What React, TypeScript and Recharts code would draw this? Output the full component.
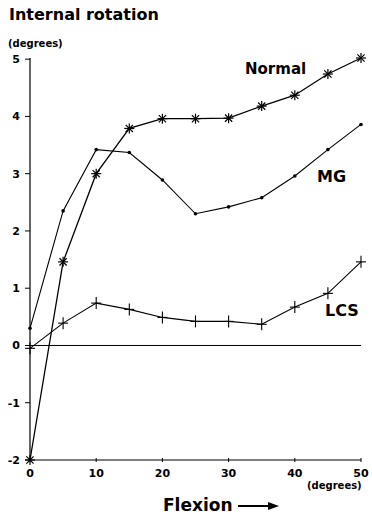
import React from "react";
import { LineChart, Line, XAxis, YAxis, ReferenceLine } from "recharts";

const flexion = [0, 5, 10, 15, 20, 25, 30, 35, 40, 45, 50];
const normal = [-2.0, 1.46, 3.0, 3.79, 3.96, 3.96, 3.97, 4.18, 4.37, 4.74, 5.02];
const mg = [0.3, 2.35, 3.42, 3.37, 2.89, 2.3, 2.42, 2.58, 2.96, 3.42, 3.86];
const lcs = [-0.05, 0.39, 0.74, 0.63, 0.49, 0.42, 0.42, 0.37, 0.67, 0.91, 1.46];
const xTicks = [0, 10, 20, 30, 40, 50];
const yTicks = [-2, -1, 0, 1, 2, 3, 4, 5];

const data = flexion.map((f, i) => ({ f, normal: normal[i], mg: mg[i], lcs: lcs[i] }));

const FONT = "'DejaVu Sans', 'Liberation Sans', Arial, sans-serif";

const Star = (props: any) => {
  const { cx, cy, index } = props;
  if (cx == null || cy == null) return <g key={index} />;
  const r = 5;
  const d = r * 0.72;
  return (
    <g key={index} stroke="#000" strokeWidth={1.2}>
      <line x1={cx - r} y1={cy} x2={cx + r} y2={cy} />
      <line x1={cx} y1={cy - r} x2={cx} y2={cy + r} />
      <line x1={cx - d} y1={cy - d} x2={cx + d} y2={cy + d} />
      <line x1={cx - d} y1={cy + d} x2={cx + d} y2={cy - d} />
    </g>
  );
};

const Plus = (props: any) => {
  const { cx, cy, index } = props;
  if (cx == null || cy == null) return <g key={index} />;
  return (
    <g key={index} stroke="#000" strokeWidth={1.1}>
      <line x1={cx - 5} y1={cy} x2={cx + 5} y2={cy} />
      <line x1={cx} y1={cy - 6} x2={cx} y2={cy + 6} />
    </g>
  );
};

const Dot = (props: any) => {
  const { cx, cy, index } = props;
  if (cx == null || cy == null) return <g key={index} />;
  return <circle key={index} cx={cx} cy={cy} r={1.8} fill="#000" />;
};

const XTick = (props: any) => {
  const { x, y, payload } = props;
  return (
    <g>
      <line x1={x} x2={x} y1={y - 4} y2={y} stroke="#000" strokeWidth={1} />
      <text x={x} y={y + 15} textAnchor="middle" fontFamily={FONT} fontWeight="bold" fontSize={11} fill="#000">
        {payload.value}
      </text>
    </g>
  );
};

const YTick = (props: any) => {
  const { x, y, payload } = props;
  return (
    <text x={x} y={y + 4} textAnchor="end" fontFamily={FONT} fontWeight="bold" fontSize={11} fill="#000">
      {payload.value}
    </text>
  );
};

const txt = (style: React.CSSProperties, s: string) => (
  <div style={{ position: "absolute", fontFamily: FONT, fontWeight: "bold", color: "#000", whiteSpace: "nowrap", lineHeight: 1, ...style }}>{s}</div>
);

export default function App() {
  return (
    <div style={{ position: "absolute", left: 0, top: 0, width: 372, height: 522, background: "#fff" }}>
      <LineChart width={372} height={522} data={data} margin={{ top: 58, right: 11, bottom: 0, left: 0 }}>
        <XAxis
          dataKey="f"
          type="number"
          domain={[0, 50]}
          ticks={xTicks}
          tickSize={0}
          tickLine={false}
          tick={<XTick />}
          axisLine={{ stroke: "#000", strokeWidth: 1.2 }}
          height={62}
        />
        <YAxis
          type="number"
          domain={[-2, 5]}
          ticks={yTicks}
          width={30}
          tickSize={5}
          tickMargin={5}
          tickLine={{ stroke: "#000", strokeWidth: 1 }}
          tick={<YTick />}
          axisLine={{ stroke: "#000", strokeWidth: 1.2 }}
        />
        <ReferenceLine y={0} stroke="#000" strokeWidth={1} />
        <Line dataKey="normal" stroke="#000" strokeWidth={1.3} dot={<Star />} isAnimationActive={false} />
        <Line dataKey="mg" stroke="#000" strokeWidth={1.1} dot={<Dot />} isAnimationActive={false} />
        <Line dataKey="lcs" stroke="#000" strokeWidth={1.1} dot={<Plus />} isAnimationActive={false} />
      </LineChart>
      {txt({ left: 9, top: 7, fontSize: 16 }, "Internal rotation")}
      {txt({ left: 8, top: 39, fontSize: 10 }, "(degrees)")}
      {txt({ left: 245, top: 62, fontSize: 15 }, "Normal")}
      {txt({ left: 317, top: 169, fontSize: 16 }, "MG")}
      {txt({ left: 325, top: 303, fontSize: 16 }, "LCS")}
      {txt({ left: 307, top: 481, fontSize: 10 }, "(degrees)")}
      {txt({ left: 163, top: 497, fontSize: 17 }, "Flexion")}
      <svg style={{ position: "absolute", left: 0, top: 0 }} width={372} height={522}>
        <line x1={238} y1={506} x2={272} y2={506} stroke="#000" strokeWidth={2} />
        <polygon points="279,506 268,502 268,510" fill="#000" />
      </svg>
    </div>
  );
}
